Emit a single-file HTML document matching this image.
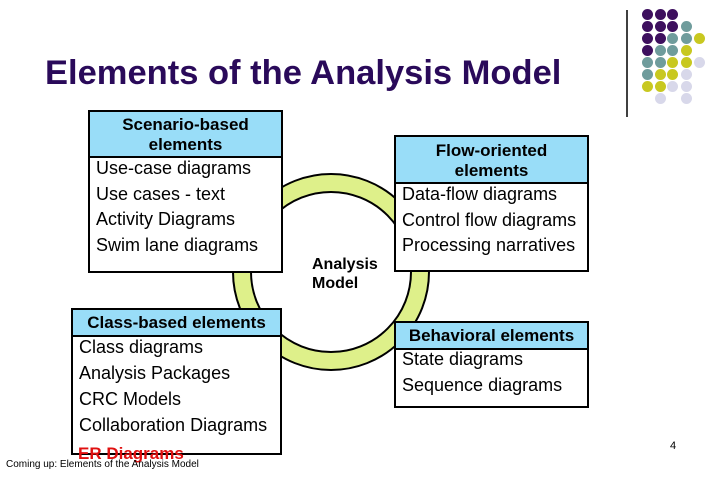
<!DOCTYPE html>
<html><head><style>
body{margin:0;width:720px;height:480px;background:#fff;position:relative;overflow:hidden;font-family:"Liberation Sans",Arial,sans-serif}
.a{position:absolute}
.box{position:absolute;border:2px solid #000;background:#fff;box-sizing:border-box}
.hd{background:#99ddf8;border-bottom:2px solid #000;font-weight:bold;text-align:center;font-size:17px;line-height:20px}
.bd{font-size:18px;line-height:25.5px;padding-left:6px;white-space:nowrap}
.d{position:absolute;width:11px;height:11px;border-radius:50%}
</style></head><body>
<svg class="a" style="left:0;top:0" width="720" height="480">
<circle cx="331" cy="272" r="89" fill="none" stroke="#000" stroke-width="20"/>
<circle cx="331" cy="272" r="89" fill="none" stroke="#def08a" stroke-width="16"/>
<line x1="627" y1="10" x2="627" y2="117" stroke="#000" stroke-width="1.5"/>
</svg>
<div class="a" style="left:45px;top:54px;font-size:34.5px;font-weight:bold;color:#2a0a5a;white-space:nowrap">Elements of the Analysis Model</div>
<div class="box" style="left:88px;top:110px;width:195px;height:163px"><div class="hd" style="height:46px;padding-top:3px;box-sizing:border-box">Scenario-based<br>elements</div><div class="bd" style="margin-top:-2px">Use-case diagrams<br>Use cases - text<br>Activity Diagrams<br>Swim lane diagrams</div></div>
<div class="box" style="left:394px;top:135px;width:195px;height:137px"><div class="hd" style="height:47px;padding-top:4px;box-sizing:border-box">Flow-oriented<br>elements</div><div class="bd" style="margin-top:-2px">Data-flow diagrams<br>Control flow diagrams<br>Processing narratives</div></div>
<div class="box" style="left:71px;top:308px;width:211px;height:147px"><div class="hd" style="height:27px;padding-top:3px;box-sizing:border-box">Class-based elements</div><div class="bd" style="line-height:26px;margin-top:-3px">Class diagrams<br>Analysis Packages<br>CRC Models<br>Collaboration Diagrams</div></div>
<div class="box" style="left:394px;top:321px;width:195px;height:87px"><div class="hd" style="height:27px;padding-top:3px;box-sizing:border-box">Behavioral elements</div><div class="bd" style="margin-top:-3px">State diagrams<br>Sequence diagrams</div></div>
<div class="a" style="left:312px;top:255px;font-size:16px;font-weight:bold;line-height:19px">Analysis<br>Model</div>
<div class="a" style="left:78px;top:444px;font-size:17px;font-weight:bold;color:#e01010">ER Diagrams</div>
<div class="a" style="left:6px;top:459px;font-size:10px">Coming up: Elements of the Analysis Model</div>
<div class="a" style="left:670px;top:440px;font-size:11px">4</div>
<div id="dots"></div>
<script>
var P='#3d0f5e',T='#6f9c9c',Y='#c8c820',L='#d8d8ea';
var rows=[[P,P,P],[P,P,P,T],[P,P,T,T,Y],[P,T,T,Y],[T,T,Y,Y,L],[T,Y,Y,L],[Y,Y,L,L],[0,L,0,L]];
var xs=[647,660,672,686,699],h='';
rows.forEach(function(r,i){r.forEach(function(c,j){if(c)h+='<div class="d" style="left:'+(xs[j]-5.5)+'px;top:'+(14+12*i-5.5)+'px;background:'+c+'"></div>';});});
document.getElementById('dots').innerHTML=h;
</script>
</body></html>
